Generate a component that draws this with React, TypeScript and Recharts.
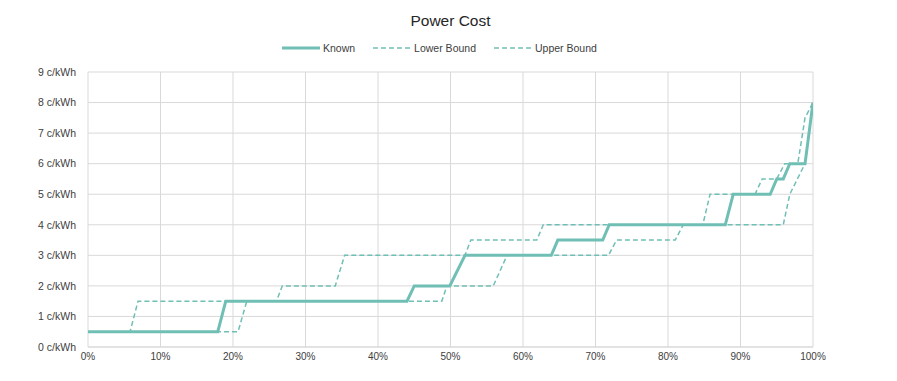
import React from "react";
import { LineChart, Line, XAxis, YAxis, CartesianGrid } from "recharts";

// x = share of hours (%), y = cost (c/kWh)
const knownX = [0, 17.9, 19, 44, 45, 49.9, 52, 63.9, 64.8, 71, 71.9, 87.9, 89, 94.1, 95, 95.9, 96.8, 98.9, 100];
const knownY = [0.5, 0.5, 1.5, 1.5, 2, 2, 3, 3, 3.5, 3.5, 4, 4, 5, 5, 5.5, 5.5, 6, 6, 8];

const lowerX = [0, 20.7, 21.9, 48.8, 49.5, 55.9, 57.8, 71.8, 72.9, 81, 82.1, 95.9, 96.8, 98.9, 100];
const lowerY = [0.5, 0.5, 1.5, 1.5, 2, 2, 3, 3, 3.5, 3.5, 4, 4, 5, 6, 8];

const upperX = [0, 5.8, 6.9, 26, 26.8, 34.1, 35.4, 52, 52.8, 61.9, 62.8, 84.8, 85.8, 92, 93, 95, 96.1, 97.9, 98.9, 100];
const upperY = [0.5, 0.5, 1.5, 1.5, 2, 2, 3, 3, 3.5, 3.5, 4, 4, 5, 5, 5.5, 5.5, 6, 6, 7.5, 8];

const xTicks = [0, 10, 20, 30, 40, 50, 60, 70, 80, 90, 100];
const yTicks = [0, 1, 2, 3, 4, 5, 6, 7, 8, 9];

const seriesNames = ["Known", "Lower Bound", "Upper Bound"];

const zip = (xs: number[], ys: number[]) => xs.map((x, i) => ({ x, y: ys[i] }));
const knownData = zip(knownX, knownY);
const lowerData = zip(lowerX, lowerY);
const upperData = zip(upperX, upperY);

const COLOR = "#70bfb5";
const GRID = "#d9d9d9";
const FONT = "'Liberation Sans', Arial, sans-serif";

const LegendContent = () => (
  <div
    style={{
      display: "flex",
      alignItems: "center",
      fontFamily: FONT,
      fontSize: 10.5,
      color: "#404040",
      position: "absolute",
      left: 282,
      top: 42,
      whiteSpace: "nowrap",
    }}
  >
    {seriesNames.map((name, i) => (
      <div key={name} style={{ display: "flex", alignItems: "center", marginRight: 18 }}>
        <svg width={38} height={10} style={{ marginRight: 3 }}>
          <line
            x1={0}
            y1={5}
            x2={38}
            y2={5}
            stroke={COLOR}
            strokeWidth={i === 0 ? 3 : 1.5}
            strokeDasharray={i === 0 ? undefined : "5 3"}
          />
        </svg>
        <span>{name}</span>
      </div>
    ))}
  </div>
);

export default function App() {
  return (
    <div style={{ position: "absolute", left: 0, top: 0, width: 897, height: 381, background: "#fff" }}>
      <div
        style={{
          position: "absolute",
          left: 0,
          top: 12,
          width: 897,
          textAlign: "center",
          fontFamily: FONT,
          fontSize: 15.5,
          color: "#262626",
          paddingLeft: 2,
        }}
      >
        Power Cost
      </div>
      <LegendContent />
      <LineChart
        width={897}
        height={381}
        margin={{ top: 72, right: 84, bottom: 0, left: 0 }}
      >
        <CartesianGrid stroke={GRID} strokeWidth={1} vertical={true} horizontal={true} />
        <XAxis
          dataKey="x"
          type="number"
          domain={[0, 100]}
          ticks={xTicks}
          tickFormatter={(v: number) => `${v}%`}
          height={34}
          axisLine={{ stroke: GRID }}
          tickLine={false}
          tickMargin={0}
          tick={{ fontSize: 10, fill: "#404040", fontFamily: FONT }}
          allowDataOverflow
        />
        <YAxis
          type="number"
          domain={[0, 9]}
          ticks={yTicks}
          tickFormatter={(v: number) => `${v} c/kWh`}
          width={88}
          axisLine={false}
          tickLine={false}
          tickMargin={6}
          tick={{ fontSize: 10.5, fill: "#404040", fontFamily: FONT }}
        />
        <Line
          data={lowerData}
          dataKey="y"
          name="Lower Bound"
          stroke={COLOR}
          strokeWidth={1.5}
          strokeDasharray="5 3"
          dot={false}
          activeDot={false}
          type="linear"
          isAnimationActive={false}
        />
        <Line
          data={upperData}
          dataKey="y"
          name="Upper Bound"
          stroke={COLOR}
          strokeWidth={1.5}
          strokeDasharray="5 3"
          dot={false}
          activeDot={false}
          type="linear"
          isAnimationActive={false}
        />
        <Line
          data={knownData}
          dataKey="y"
          name="Known"
          stroke={COLOR}
          strokeWidth={3}
          dot={false}
          activeDot={false}
          type="linear"
          isAnimationActive={false}
        />
      </LineChart>
    </div>
  );
}
